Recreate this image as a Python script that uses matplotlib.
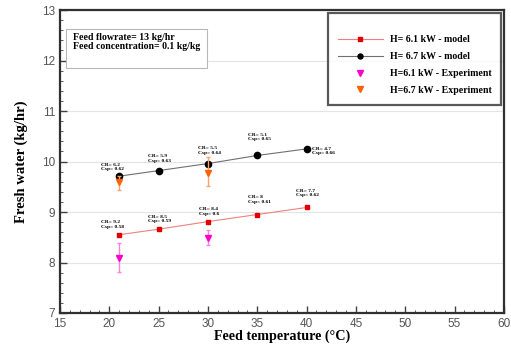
import matplotlib
matplotlib.use("Agg")
import matplotlib.pyplot as plt
from matplotlib.patches import Rectangle
from matplotlib.ticker import MultipleLocator

# feed temperatures (C) and fresh water output (kg/hr)
temp_model = [21, 25, 30, 35, 40]
fw_61 = [8.55, 8.66, 8.81, 8.95, 9.09]
fw_67 = [9.71, 9.82, 9.96, 10.12, 10.25]
cr_61 = ["9.2", "8.5", "8.4", "8", "7.7"]
csp_61 = ["0.58", "0.59", "0.6", "0.61", "0.62"]
cr_67 = ["6.2", "5.9", "5.5", "5.1", "4.7"]
csp_67 = ["0.62", "0.63", "0.64", "0.65", "0.66"]

temp_exp = [21, 30]
exp_61 = [8.08, 8.48]
exp_61_lo = [0.26, 0.13]
exp_61_hi = [0.30, 0.16]
exp_67 = [9.60, 9.78]
exp_67_lo = [0.16, 0.27]
exp_67_hi = [0.12, 0.30]

# label offsets from each model point, in pixels
off_61 = [(-18, 6), (-11, 6), (-9, 6), (-9, 11), (-11, 10)]
off_67 = [(-18, 5), (-11, 8), (-10, 9), (-9, 14), (5, -6)]

serif = "Liberation Serif"
sans = "Liberation Sans"

fig = plt.figure(figsize=(5.11, 3.47), dpi=100)
ax = fig.add_axes([0.1174, 0.098, 0.8686, 0.873])

ax.grid(axis="y", color="#e4e4e4", lw=0.8)
ax.set_axisbelow(True)

l1, = ax.plot(temp_model, fw_61, color="#f08080", lw=0.8, marker="s", ms=3.5,
              mfc="#e00000", mec="#e00000", zorder=3)
l2, = ax.plot(temp_model, fw_67, color="#707070", lw=0.8, marker="o", ms=4.5,
              mfc="black", mec="black", zorder=3)

e1 = ax.errorbar(temp_exp, exp_61, yerr=[exp_61_lo, exp_61_hi], fmt="v", ms=5,
                 color="#ff00cc", ecolor="#ff80e0", elinewidth=1, capsize=1.5, zorder=4)
e2 = ax.errorbar(temp_exp, exp_67, yerr=[exp_67_lo, exp_67_hi], fmt="v", ms=5,
                 color="#ff6000", ecolor="#ffa070", elinewidth=1, capsize=1.5, zorder=4)

for x, y, a, b, o in zip(temp_model, fw_61, cr_61, csp_61, off_61):
    ax.annotate("CR= %s\nCsp= %s" % (a, b), (x, y), xytext=o, textcoords="offset pixels",
                fontsize=3.9, fontfamily=serif, fontweight="bold", linespacing=1.1,
                ha="left", va="bottom")
for x, y, a, b, o in zip(temp_model, fw_67, cr_67, csp_67, off_67):
    ax.annotate("CR= %s\nCsp= %s" % (a, b), (x, y), xytext=o, textcoords="offset pixels",
                fontsize=3.9, fontfamily=serif, fontweight="bold", linespacing=1.1,
                ha="left", va="bottom")

# info box in the upper left corner
ax.add_patch(Rectangle((0.0135, 0.8086), 0.3175, 0.1284, transform=ax.transAxes,
                       fc="white", ec="#b8b8b8", lw=0.8, zorder=5))
ax.text(0.0293, 0.925, "Feed flowrate= 13 kg/hr\nFeed concentration= 0.1 kg/kg",
        transform=ax.transAxes, fontsize=7.1, fontfamily=serif, fontweight="bold",
        va="top", ha="left", linespacing=1.05, zorder=6)

leg = ax.legend([l1, l2, e1[0], e2[0]],
                ["H= 6.1 kW - model", "H= 6.7 kW - model",
                 "H=6.1 kW - Experiment", "H=6.7 kW - Experiment"],
                loc="upper right", bbox_to_anchor=(1.0, 1.0), fancybox=False,
                prop={"family": serif, "weight": "bold", "size": 7.1},
                title=" ", title_fontsize=4,
                borderpad=1.0, labelspacing=0.8, handlelength=4.6, handletextpad=0.7,
                borderaxespad=0.25, markerscale=0.8)
leg.get_frame().set_edgecolor("#303030")
leg.get_frame().set_linewidth(1.6)

ax.set_xlim(15, 60)
ax.set_ylim(7, 13)
ax.xaxis.set_major_locator(MultipleLocator(5))
ax.xaxis.set_minor_locator(MultipleLocator(1))
ax.yaxis.set_major_locator(MultipleLocator(1))
ax.yaxis.set_minor_locator(MultipleLocator(0.2))
ax.tick_params(which="both", direction="in", top=False, right=False, colors="#404040",
               labelcolor="#555555", labelsize=8.5)
ax.tick_params(which="major", length=5, width=1)
ax.tick_params(which="minor", length=2.5, width=0.6)
for lab in ax.get_xticklabels() + ax.get_yticklabels():
    lab.set_fontfamily(sans)
for s in ax.spines.values():
    s.set_linewidth(1.6)
    s.set_color("#303030")

ax.set_xlabel("Feed temperature (\u00b0C)", fontsize=10.2, fontfamily=serif,
              fontweight="bold", labelpad=0)
ax.set_ylabel("Fresh water (kg/hr)", fontsize=10.5, fontfamily=serif,
              fontweight="bold", labelpad=10)

fig.savefig("out.png", dpi=100)
